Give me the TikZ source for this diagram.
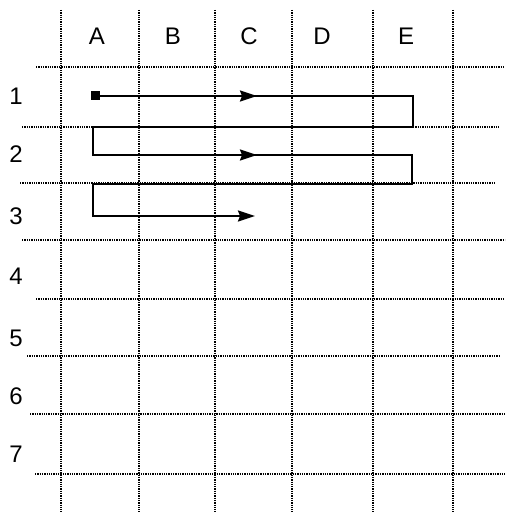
\documentclass[tikz,border=0pt]{standalone}
\usepackage{fontspec}
\setmainfont{Liberation Sans}
\usetikzlibrary{arrows.meta}
\begin{document}
\begin{tikzpicture}[x=1pt,y=-1pt,
  gridline/.style={line width=1.7pt, dash pattern=on 1.3pt off 1pt},
  flow/.style={line width=2.2pt, line join=miter},
  tip/.style={line width=2.2pt, -{Stealth[length=17pt,width=11pt,inset=2pt]}},
  lab/.style={font=\fontsize{24}{24}\selectfont, inner sep=0pt, anchor=center},
  startsq/.style={fill=black, minimum size=9pt, inner sep=0pt, draw=none}]
\useasboundingbox (0,0) rectangle (508,513);
% vertical grid lines
\foreach \x [count=\i] in {61,139,215,292,373,453}{
  \coordinate (vt\i) at (\x,10);
  \coordinate (vb\i) at (\x,512);
  \draw[gridline] (vt\i) -- (vb\i);
}
% horizontal grid lines
\foreach \y/\a/\b [count=\i] in {67/36/505,127/22/500,183/20/496,240/22/505,299/36/505,356/27/500,414/30/505,474/35/505}{
  \coordinate (hl\i) at (\a,\y);
  \coordinate (hr\i) at (\b,\y);
  \draw[gridline] (hl\i) -- (hr\i);
}
% column labels
\node[lab] (cA) at (97,36) {A};
\node[lab] (cB) at (173,36) {B};
\node[lab] (cC) at (249,36) {C};
\node[lab] (cD) at (322,36) {D};
\node[lab] (cE) at (406,36) {E};
% row labels
\node[lab] (r1) at (16,96) {1};
\node[lab] (r2) at (16,154) {2};
\node[lab] (r3) at (16,216) {3};
\node[lab] (r4) at (16,276) {4};
\node[lab] (r5) at (16,338) {5};
\node[lab] (r6) at (16,396) {6};
\node[lab] (r7) at (16,454) {7};
% path
\node[startsq] (start) at (95,96) {};
\coordinate (p1) at (413,96);
\coordinate (p2) at (413,127);
\coordinate (p3) at (93,127);
\coordinate (p4) at (93,155);
\coordinate (p5) at (412,155);
\coordinate (p6) at (412,184);
\coordinate (p7) at (93,184);
\coordinate (p8) at (93,216);
\coordinate (e3) at (240,216);
\draw[flow] (start.center) -- (p1) -- (p2) -- (p3) -- (p4) -- (p5) -- (p6) -- (p7) -- (p8) -- (e3);
% arrowheads
\coordinate (a1s) at (225,96);
\coordinate (a1e) at (257,96);
\coordinate (a2s) at (225,155);
\coordinate (a2e) at (257,155);
\coordinate (a3e) at (255,216);
\draw[tip] (a1s) -- (a1e);
\draw[tip] (a2s) -- (a2e);
\draw[tip] (e3) -- (a3e);
\end{tikzpicture}
\end{document}
